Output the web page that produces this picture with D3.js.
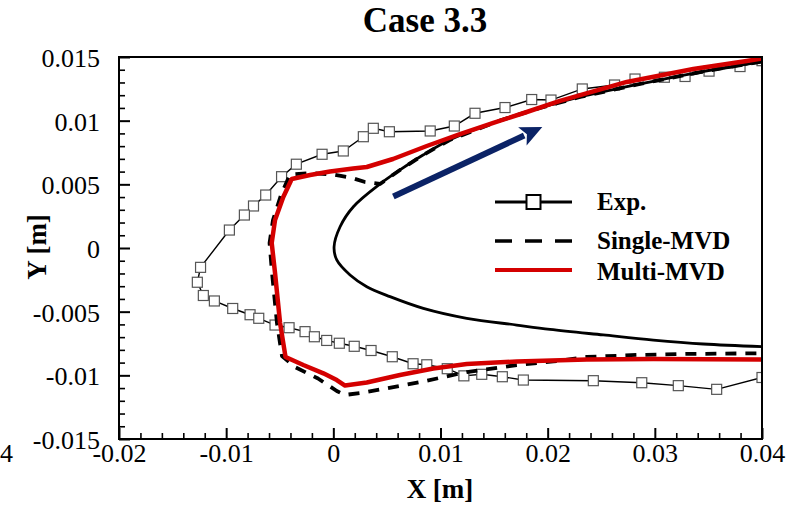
<!DOCTYPE html>
<html>
<head>
<meta charset="utf-8">
<script src="https://cdn.jsdelivr.net/npm/d3@7"></script>
<style>
  html, body { margin: 0; padding: 0; background: #fff; }
  svg { display: block; font-family: "Liberation Serif", "Times New Roman", serif; }
</style>
</head>
<body>
<svg id="chart" width="807" height="506"></svg>
<script>
// Ice accretion profiles, Case 3.3 (coordinates in metres)

// Experimental ice tracing, upper surface -> leading edge -> lower surface
const expX = [0.0400, 0.03795, 0.03506, 0.03282, 0.03089, 0.02815, 0.02624, 0.02323, 0.02031, 0.01851,
  0.01602, 0.01322, 0.01129, 0.00904, 0.00523, 0.00373, 0.00280, 0.00093, -0.00105, -0.00345,
  -0.00483, -0.00631, -0.00745, -0.00830, -0.00970, -0.01239, -0.01269, -0.01213, -0.01110, -0.00939,
  -0.00777, -0.00696, -0.00544, -0.00413, -0.00264, -0.00177, -0.00062, 0.00056, 0.00195, 0.00352,
  0.00550, 0.00744, 0.00872, 0.01063, 0.01218, 0.01385, 0.01577, 0.01773, 0.02426, 0.02878,
  0.03219, 0.03577, 0.0400];
const expY = [0.01471, 0.01425, 0.01389, 0.01347, 0.01341, 0.01327, 0.01280, 0.01249, 0.01162, 0.01166,
  0.01103, 0.01058, 0.00958, 0.00919, 0.00913, 0.00940, 0.00874, 0.00762, 0.00736, 0.00658,
  0.00560, 0.00416, 0.00330, 0.00259, 0.00141, -0.00152, -0.00269, -0.00373, -0.00416, -0.00475,
  -0.00524, -0.00552, -0.00605, -0.00626, -0.00657, -0.00697, -0.00726, -0.00748, -0.00772, -0.00805,
  -0.00854, -0.00909, -0.00917, -0.00948, -0.01004, -0.00992, -0.01011, -0.01037, -0.01042, -0.01058,
  -0.01081, -0.01110, -0.01017];

// Clean airfoil contour
const airfoilX = [0.0400, 0.03422, 0.02862, 0.02302, 0.01929, 0.01555, 0.01085, 0.00837, 0.00622, 0.00436,
  0.00187, 0.00063, 0.00007, 0.00032, 0.00156, 0.00312, 0.00529, 0.00840, 0.01245, 0.01711,
  0.02022, 0.02519, 0.02986, 0.03452, 0.0400];
const airfoilY = [0.01465, 0.01382, 0.01288, 0.01186, 0.01100, 0.01001, 0.00848, 0.00730, 0.00613, 0.00503,
  0.00324, 0.00167, 0.00010, -0.00094, -0.00212, -0.00304, -0.00382, -0.00474, -0.00552, -0.00605,
  -0.00639, -0.00683, -0.00723, -0.00754, -0.00775];

// Predicted ice shape, single MVD
const singleX = [0.0400, 0.03422, 0.02862, 0.02302, 0.01929, 0.01555, 0.01085, 0.00837, 0.00622, 0.00436,
  0.00296, 0.00174, -0.00003, -0.00217, -0.00404, -0.00488, -0.00563, -0.00595, -0.00572, -0.00526,
  -0.00479, -0.00357, -0.00143, 0.00032, 0.00109, 0.00249, 0.00467, 0.00840, 0.01245, 0.01711,
  0.02053, 0.02364, 0.02831, 0.03298, 0.0400];
const singleY = [0.01465, 0.01382, 0.01288, 0.01186, 0.01100, 0.01001, 0.00848, 0.00730, 0.00613, 0.00503,
  0.00518, 0.00550, 0.00577, 0.00589, 0.00577, 0.00416, 0.00220, 0.00039, -0.00196, -0.00589,
  -0.00848, -0.00935, -0.01025, -0.01123, -0.01154, -0.01139, -0.01107, -0.01048, -0.00974, -0.00919,
  -0.00891, -0.00856, -0.00840, -0.00832, -0.00827];

// Predicted ice shape, multiple MVD
const multiX = [0.0400, 0.03857, 0.03359, 0.02738, 0.02115, 0.01805, 0.01493, 0.01182, 0.00872, 0.00557,
  0.00312, 0.00184, -0.00031, -0.00217, -0.00388, -0.00467, -0.00544, -0.00575, -0.00544, -0.00497,
  -0.00446, -0.00280, -0.00093, 0.00032, 0.00109, 0.00312, 0.00622, 0.00933, 0.01245, 0.01711,
  0.02364, 0.02986, 0.0400];
const multiY = [0.01488, 0.01469, 0.01406, 0.01304, 0.01155, 0.01068, 0.00982, 0.00895, 0.00801, 0.00699,
  0.00636, 0.00624, 0.00601, 0.00573, 0.00542, 0.00401, 0.00220, 0.00039, -0.00196, -0.00589,
  -0.00856, -0.00919, -0.00984, -0.01037, -0.01080, -0.01056, -0.00997, -0.00946, -0.00911, -0.00891,
  -0.00876, -0.00872, -0.00876];

// Flow direction arrow (tail, head)
const arrowX = [0.0056, 0.0195];
const arrowY = [0.00405, 0.0095];

// Axis ticks and labels
const xTicks = [-0.02, -0.01, 0, 0.01, 0.02, 0.03, 0.04];
const xTickLabels = ["-0.02", "-0.01", "0", "0.01", "0.02", "0.03", "0.04"];
const yTicks = [-0.015, -0.01, -0.005, 0, 0.005, 0.01, 0.015];
const yTickLabels = ["-0.015", "-0.01", "-0.005", "0", "0.005", "0.01", "0.015"];
const xMinor = d3.range(-0.02, 0.0401, 0.002).filter(v => xTicks.every(t => Math.abs(t - v) > 1e-6));
const yMinor = d3.range(-0.015, 0.0151, 0.001).filter(v => yTicks.every(t => Math.abs(t - v) > 1e-6));

const seriesNames = ["Exp.", "Single-MVD", "Multi-MVD"];

const svg = d3.select("#chart");
const L = 119, R = 762, T = 57, B = 439;
const x = d3.scaleLinear().domain([-0.02, 0.04]).range([L, R]);
const y = d3.scaleLinear().domain([-0.015, 0.015]).range([B, T]);

const RED = "#d40000";
const NAVY = "#0b2366";

svg.append("defs").append("clipPath").attr("id", "plotClip")
  .append("rect").attr("x", L).attr("y", T).attr("width", R - L).attr("height", B - T);

const plot = svg.append("g").attr("clip-path", "url(#plotClip)");

const zip = (xs, ys) => xs.map((v, i) => [v, ys[i]]);
const lineLin = d3.line().x(d => x(d[0])).y(d => y(d[1]));
const lineSmooth = d3.line().x(d => x(d[0])).y(d => y(d[1])).curve(d3.curveCatmullRom.alpha(0.5));

const expPts = zip(expX, expY);

// experimental trace
plot.append("path").datum(expPts)
  .attr("d", lineLin).attr("fill", "none").attr("stroke", "#000").attr("stroke-width", 1.4);
plot.selectAll("rect.exp").data(expPts).enter().append("rect")
  .attr("class", "exp")
  .attr("x", d => x(d[0]) - 5).attr("y", d => y(d[1]) - 5)
  .attr("width", 10).attr("height", 10)
  .attr("fill", "#fff").attr("stroke", "#555").attr("stroke-width", 1.2);

// airfoil
plot.append("path").datum(zip(airfoilX, airfoilY))
  .attr("d", lineSmooth).attr("fill", "none").attr("stroke", "#000").attr("stroke-width", 2.8);

// single MVD
plot.append("path").datum(zip(singleX, singleY))
  .attr("d", lineLin).attr("fill", "none").attr("stroke", "#000").attr("stroke-width", 3.8)
  .attr("stroke-dasharray", "11,9").attr("stroke-linejoin", "round");

// multi MVD
plot.append("path").datum(zip(multiX, multiY))
  .attr("d", lineLin).attr("fill", "none").attr("stroke", RED).attr("stroke-width", 4.5)
  .attr("stroke-linejoin", "round");

// flow arrow
{
  const x0 = x(arrowX[0]), y0 = y(arrowY[0]), x1 = x(arrowX[1]), y1 = y(arrowY[1]);
  const ang = Math.atan2(y1 - y0, x1 - x0);
  const headLen = 22, headW = 10;
  const bx = x1 - headLen * Math.cos(ang), by = y1 - headLen * Math.sin(ang);
  plot.append("line").attr("x1", x0).attr("y1", y0).attr("x2", bx + 2 * Math.cos(ang)).attr("y2", by + 2 * Math.sin(ang))
    .attr("stroke", NAVY).attr("stroke-width", 6);
  const px = -Math.sin(ang), py = Math.cos(ang);
  const notch = 5;
  const nx = bx + notch * Math.cos(ang), ny = by + notch * Math.sin(ang);
  plot.append("path")
    .attr("d", `M${x1},${y1} L${bx + headW * px},${by + headW * py} L${nx},${ny} L${bx - headW * px},${by - headW * py} Z`)
    .attr("fill", NAVY);
}

// frame
svg.append("rect").attr("x", L).attr("y", T).attr("width", R - L).attr("height", B - T)
  .attr("fill", "none").attr("stroke", "#000").attr("stroke-width", 2);

// axes with inward ticks
const fs = 26;
const xAxis = svg.append("g").attr("transform", `translate(0,${B})`)
  .call(d3.axisBottom(x).tickValues(xTicks).tickSize(-11).tickPadding(4)
    .tickFormat((d, i) => xTickLabels[i]));
const xMinorAxis = svg.append("g").attr("transform", `translate(0,${B})`)
  .call(d3.axisBottom(x).tickValues(xMinor).tickSize(-6).tickFormat(""));
const yAxis = svg.append("g").attr("transform", `translate(${L},0)`)
  .call(d3.axisLeft(y).tickValues(yTicks).tickSize(-11).tickPadding(19)
    .tickFormat((d, i) => yTickLabels[i]));
const yMinorAxis = svg.append("g").attr("transform", `translate(${L},0)`)
  .call(d3.axisLeft(y).tickValues(yMinor).tickSize(-6).tickFormat(""));

[xAxis, xMinorAxis, yAxis, yMinorAxis].forEach(g => {
  g.select(".domain").remove();
  g.selectAll("line").attr("stroke", "#000").attr("stroke-width", 1.6);
  g.selectAll("text").attr("font-family", "Liberation Serif, Times New Roman, serif")
    .attr("font-size", fs).attr("fill", "#000");
});
xAxis.selectAll("line").attr("stroke-width", 2);
yAxis.selectAll("line").attr("stroke-width", 2);
xAxis.selectAll("text").attr("dy", null).attr("y", 23);
yAxis.selectAll("text").attr("dy", "0.37em");

// stray label fragment at the lower left edge
svg.append("text").attr("x", 13).attr("y", 462).attr("text-anchor", "end")
  .attr("font-size", fs).text("4");

// titles
svg.append("text").attr("x", 425).attr("y", 32).attr("text-anchor", "middle")
  .attr("font-size", 35).attr("font-weight", "bold").text("Case 3.3");
svg.append("text").attr("x", 440).attr("y", 498).attr("text-anchor", "middle")
  .attr("font-size", 27).attr("font-weight", "bold").text("X [m]");
svg.append("text").attr("transform", "translate(46,247) rotate(-90)").attr("text-anchor", "middle")
  .attr("font-size", 27).attr("font-weight", "bold").text("Y [m]");

// legend
const lg = svg.append("g");
const lx0 = 495, lx1 = 572, tx = 597;
const rows = [202, 241, 270];
const baselines = [210, 249, 280];
lg.append("line").attr("x1", lx0).attr("x2", lx1).attr("y1", rows[0]).attr("y2", rows[0])
  .attr("stroke", "#000").attr("stroke-width", 3);
lg.append("rect").attr("x", 533.5 - 7).attr("y", rows[0] - 7).attr("width", 14).attr("height", 14)
  .attr("fill", "#fff").attr("stroke", "#000").attr("stroke-width", 2);
lg.append("line").attr("x1", lx0).attr("x2", lx1 + 1).attr("y1", rows[1]).attr("y2", rows[1])
  .attr("stroke", "#000").attr("stroke-width", 3.5).attr("stroke-dasharray", "17,13");
lg.append("line").attr("x1", lx0).attr("x2", lx1).attr("y1", rows[2]).attr("y2", rows[2])
  .attr("stroke", RED).attr("stroke-width", 4);
seriesNames.forEach((n, i) => {
  lg.append("text").attr("x", tx).attr("y", baselines[i]).attr("font-size", 25)
    .attr("font-weight", "bold").text(n);
});
</script>
</body>
</html>
